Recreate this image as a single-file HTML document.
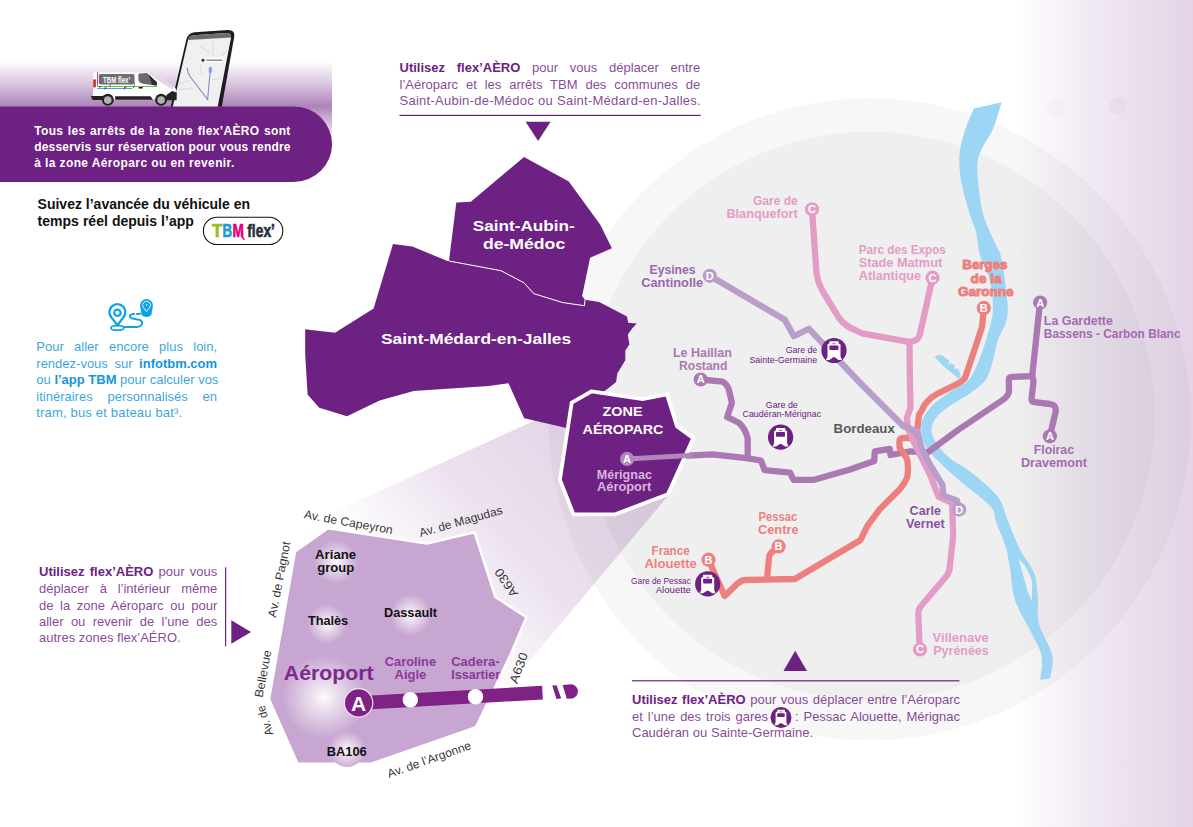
<!DOCTYPE html>
<html lang="fr"><head><meta charset="utf-8"><title>flex'AÉRO</title>
<style>
html,body{margin:0;padding:0;background:#fff}
body{width:1193px;height:827px;overflow:hidden;position:relative;font-family:"Liberation Sans",sans-serif}
svg text{font-family:"Liberation Sans",sans-serif}
.l{position:absolute;white-space:nowrap;text-align:justify;text-align-last:justify;line-height:1}
.p{color:rgba(109,33,130,.84);font-size:13px}
.p b{color:#6d2182}
.b{color:rgba(20,150,215,.88);font-size:13px}
.b b{color:#1496d7}
.w{color:#fff;font-size:12px;font-weight:bold}
.k{color:#111;font-size:14px;font-weight:bold}
b{font-weight:bold}
.n{text-align-last:left}
</style></head><body>
<svg width="1193" height="827" viewBox="0 0 1193 827" style="position:absolute;left:0;top:0">
<defs>
<linearGradient id="gR" x1="0" y1="0" x2="1" y2="0"><stop offset="0" stop-color="#6d2182" stop-opacity="0"/><stop offset="0.4" stop-color="#6d2182" stop-opacity="0.095"/><stop offset="1" stop-color="#6d2182" stop-opacity="0.195"/></linearGradient>
<linearGradient id="gT" gradientUnits="userSpaceOnUse" x1="0" y1="61" x2="0" y2="141"><stop offset="0" stop-color="#6d2182" stop-opacity="0"/><stop offset="0.28" stop-color="#6d2182" stop-opacity="0.25"/><stop offset="0.5625" stop-color="#6d2182" stop-opacity="0.56"/><stop offset="1" stop-color="#6d2182" stop-opacity="0"/></linearGradient>
<linearGradient id="gC" gradientUnits="userSpaceOnUse" x1="620" y1="450" x2="420" y2="625"><stop offset="0" stop-color="#6d2182" stop-opacity="0.2"/><stop offset="0.55" stop-color="#6d2182" stop-opacity="0.13"/><stop offset="0.92" stop-color="#6d2182" stop-opacity="0.02"/><stop offset="1" stop-color="#6d2182" stop-opacity="0"/></linearGradient>
<radialGradient id="gl"><stop offset="0" stop-color="#fff" stop-opacity="0.95"/><stop offset="0.35" stop-color="#fff" stop-opacity="0.6"/><stop offset="1" stop-color="#fff" stop-opacity="0"/></radialGradient>
</defs>
<circle cx="869.6" cy="419.3" r="321.2" fill="#f7f7f7"/>
<circle cx="870.3" cy="416" r="284.3" fill="#efefef"/>
<rect x="1016" y="0" width="177" height="827" fill="url(#gR)"/>
<rect x="0" y="60" width="332" height="86" fill="url(#gT)"/>
<path d="M0,106.4H294A38,37.7 0 0 1 294,181.9H0Z" fill="#6d2182"/>
<polygon points="571.0,404.0 668.0,496.0 500.0,696.0 290.0,532.0" fill="url(#gC)"/>
<path d="M973.8,108.6 C972.2,112.7 966.5,125.1 964.1,133.2 C961.7,141.3 959.7,148.9 959.3,157.4 C958.9,165.9 959.9,174.3 961.7,184.0 C963.5,193.7 967.8,207.5 970.2,215.5 C972.6,223.5 974.4,225.6 976.0,232.0 C977.6,238.4 977.5,246.5 979.7,254.2 C981.9,261.9 987.2,269.1 989.4,278.4 C991.6,287.7 993.4,300.0 993.0,309.8 C992.6,319.6 989.6,327.9 987.0,337.0 C984.4,346.1 980.6,356.8 977.4,364.2 C974.2,371.6 971.9,376.7 967.7,381.1 C963.5,385.5 957.6,387.0 952.0,390.8 C946.4,394.6 938.7,399.5 933.9,404.1 C929.1,408.7 925.1,414.3 923.0,418.6 C920.9,422.9 921.0,425.6 921.3,430.0 C921.6,434.4 922.4,440.3 925.0,445.3 C927.6,450.3 931.2,453.9 937.0,459.8 C942.8,465.8 951.0,473.2 960.0,481.0 C969.0,488.8 984.7,499.7 990.7,506.5 C996.7,513.3 993.6,515.5 996.0,522.0 C998.4,528.5 1002.9,537.5 1005.2,545.2 C1007.5,552.9 1008.4,559.3 1010.0,568.4 C1011.6,577.5 1011.7,589.7 1014.9,599.8 C1018.1,609.9 1025.0,619.6 1029.4,628.9 C1033.8,638.2 1039.7,647.0 1041.5,655.5 C1043.3,664.0 1040.5,675.7 1040.3,679.7 L1049.9,678.5 C1050.3,674.7 1054.2,664.6 1052.4,655.5 C1050.6,646.4 1041.4,633.7 1039.0,624.0 C1036.6,614.3 1038.6,605.9 1037.8,597.4 C1037.0,588.9 1037.2,581.3 1034.2,573.2 C1031.2,565.1 1024.1,557.9 1019.7,549.0 C1015.3,540.1 1011.2,528.7 1007.6,520.0 C1004.0,511.3 1004.0,504.7 997.9,496.8 C991.8,488.9 979.2,479.0 971.3,472.6 C963.4,466.2 956.1,463.4 950.4,458.6 C944.7,453.9 940.2,448.9 937.1,444.1 C934.0,439.3 931.6,434.4 931.5,430.0 C931.4,425.6 933.1,421.5 936.3,417.4 C939.5,413.3 945.1,409.3 950.8,405.3 C956.4,401.3 964.6,397.2 970.2,393.2 C975.9,389.2 981.1,385.9 984.7,381.1 C988.3,376.3 989.7,371.1 991.9,364.2 C994.1,357.3 995.6,347.0 998.0,340.0 C1000.4,333.0 1004.4,328.2 1006.0,322.0 C1007.6,315.8 1008.2,313.1 1007.5,302.6 C1006.8,292.1 1003.5,268.7 1001.5,259.0 C999.5,249.3 998.6,251.8 995.6,244.5 C992.6,237.2 986.3,225.2 983.5,215.5 C980.7,205.8 979.6,195.0 978.6,186.5 C977.6,178.0 977.0,170.8 977.4,164.7 C977.8,158.6 978.4,156.2 981.0,150.2 C983.6,144.1 989.8,136.4 993.2,128.4 C996.6,120.4 1000.2,106.7 1001.6,102.3 Z" fill="#9dd5f5"/>
<path d="M1018.5,558.7 Q1030,570 1032.3,582.9 L1031.8,601 Q1027,592 1024.5,580.5 Z" fill="#efefef"/>
<polygon points="934.5,357 938,355 943,355.7 949.6,361.2 947.8,364.2 952,363.6 955,366 953.8,369 958,368.4 959.3,371.5 961,376.3 958.7,378.7 944.8,367.2" fill="#9dd5f5"/>
<path d="M627,459 L640,458 L712.6,454.4 L746.5,458.1 L761,460.5 L764.6,470.2 L790,472.6 L793.6,479.8 L814.2,479.8 L850,469.5 L874.2,461 L874.8,451.4 L889.9,448.9 L890.5,455 L910.5,451.4 L927.4,452.6 L958,430 L1002.7,400 Q1009.5,395 1009,389.7 L1008.8,380 Q1008.8,377 1012,376.9 L1032.2,376.1" fill="none" stroke="#ab78b4" stroke-width="6.3" stroke-linecap="round" stroke-linejoin="round"/>
<path d="M700.7,379.5 L722.8,381.7 Q727,384 729,390 L731.9,402.9 L727.1,416.9 L739.2,423 Q746,430 747.7,438.7 L747.7,456.9" fill="none" stroke="#ab78b4" stroke-width="6.3" stroke-linecap="round" stroke-linejoin="round"/>
<path d="M1040,302.6 L1032.2,376.1 L1033.5,381 L1031.6,398.6 Q1031.4,401.8 1034.5,402.2 L1050,404 Q1056.5,405 1055.8,411 L1049.9,436.3" fill="none" stroke="#ab78b4" stroke-width="6.3" stroke-linecap="round" stroke-linejoin="round"/>
<path d="M983.8,307.9 L982.1,326.8 L965.2,377.6 Q962,382 955,385 L937,394 Q926,400 922,410 L919,415 L917.1,430.8 Q916,438 909,438 L903,438 Q899,438.5 899.4,443 L899.6,447.7 L906.9,458.6 Q909,468 907.2,477.4 Q905,483 900,489 L880,508.9 L867.4,525.8 L860.2,540.3 L794.9,579 L745,580 Q741.6,580.3 738,583 L724.7,596 L708.5,559.7" fill="none" stroke="#ee7f7f" stroke-width="6.3" stroke-linecap="round" stroke-linejoin="round"/>
<path d="M778.6,546.4 L771,553 Q769,555 769,558 L767,579" fill="none" stroke="#ee7f7f" stroke-width="6.3" stroke-linecap="round" stroke-linejoin="round"/>
<path d="M812,209.3 L816.6,274.3 Q818,283 822,290 L839,318 Q845,326 855,330 L862,333.3 L908.8,341.8 Q918,342 920,334 L932.5,277.7" fill="none" stroke="#e39cc6" stroke-width="6.3" stroke-linecap="round" stroke-linejoin="round"/>
<path d="M909.5,342 L909.9,380 L910.5,407.8 L906.9,417.5 L908,428.4 L914.1,442.9 L930.2,475 L938.6,496.8 L952,502.8 L953.2,535.5 L949.5,569.4 Q948,575 944,579 L921,606 Q918.1,609.5 918.3,615 L919.3,641 L920,649.4" fill="none" stroke="#e39cc6" stroke-width="6.3" stroke-linecap="round" stroke-linejoin="round"/>
<path d="M709.8,275.8 L784.8,319.7 L793.9,336.3 L809,328.8 L857.3,380 L903.2,426 L917.7,432 L921.4,447.7 L929,462.9 L942.3,484.7 L943.5,495.6 L956.8,500.4 L959.2,509.6" fill="none" stroke="#b99dca" stroke-width="6.3" stroke-linecap="round" stroke-linejoin="round"/>
<polygon points="393.0,244.0 412.3,246.5 447.4,261.0 449.0,261.0 501.0,270.7 524.0,282.8 533.7,293.6 562.8,302.6 584.5,305.7 585.0,299.7 599.2,302.1 627.0,316.6 628.2,322.7 636.7,323.4 631.9,328.7 627.8,334.8 629.4,344.4 625.3,350.5 625.3,360.2 617.3,373.5 616.1,382.0 606.5,389.7 590.0,400.0 566.5,428.0 524.2,418.2 508.5,383.2 488.6,386.0 413.6,390.9 379.7,400.6 347.0,416.3 319.2,407.8 307.6,394.5 305.2,354.6 305.2,329.2 335.0,332.8 373.6,308.6" fill="#6d2182"/>
<polygon points="524.0,157.0 568.8,181.6 600.3,224.7 611.9,248.2 590.1,257.8 582.1,296.1 585.0,299.7 584.5,305.7 562.8,302.6 533.7,293.6 524.0,282.8 501.0,270.7 449.0,261.0 456.3,202.4 470.8,201.7" fill="#6d2182"/>
<polyline points="449.0,261.0 501.0,270.7 524.0,282.8 533.7,293.6 562.8,302.6 584.5,305.7 585.0,299.7" fill="none" stroke="#fff" stroke-width="1"/>
<polygon points="591.7,391.3 642.5,399.1 667.0,394.5 677.0,426.3 693.3,438.1 667.9,494.3 615.3,514.3 573.5,514.3 559.9,479.8 571.7,402.7" fill="#6d2182" stroke="#fff" stroke-width="3.8" stroke-linejoin="miter"/>
<path d="M627,459 L693,455.2" stroke="#b186bd" stroke-width="5" fill="none"/>
<circle cx="812" cy="209.3" r="7.1" fill="#e39cc6"/><text x="812" y="213.20000000000002" font-size="11" font-weight="bold" fill="#fff" text-anchor="middle">C</text>
<circle cx="932.5" cy="277.7" r="7.1" fill="#e39cc6"/><text x="932.5" y="281.59999999999997" font-size="11" font-weight="bold" fill="#fff" text-anchor="middle">C</text>
<circle cx="920" cy="649.4" r="7.1" fill="#e39cc6"/><text x="920" y="653.3" font-size="11" font-weight="bold" fill="#fff" text-anchor="middle">C</text>
<circle cx="709.8" cy="275.8" r="7.1" fill="#b99dca"/><text x="709.8" y="279.7" font-size="11" font-weight="bold" fill="#fff" text-anchor="middle">D</text>
<circle cx="959.2" cy="509.6" r="7.1" fill="#b99dca"/><text x="959.2" y="513.5" font-size="11" font-weight="bold" fill="#fff" text-anchor="middle">D</text>
<circle cx="700.7" cy="379.5" r="7.1" fill="#ab78b4"/><text x="700.7" y="383.4" font-size="11" font-weight="bold" fill="#fff" text-anchor="middle">A</text>
<circle cx="1040.2" cy="302.6" r="7.1" fill="#ab78b4"/><text x="1040.2" y="306.5" font-size="11" font-weight="bold" fill="#fff" text-anchor="middle">A</text>
<circle cx="1049.9" cy="436.3" r="7.1" fill="#ab78b4"/><text x="1049.9" y="440.2" font-size="11" font-weight="bold" fill="#fff" text-anchor="middle">A</text>
<circle cx="627.1" cy="458.9" r="7.1" fill="#b186bd"/><text x="627.1" y="462.79999999999995" font-size="11" font-weight="bold" fill="#fff" text-anchor="middle">A</text>
<circle cx="983.8" cy="307.9" r="7.1" fill="#ee7f7f"/><text x="983.8" y="311.79999999999995" font-size="11" font-weight="bold" fill="#fff" text-anchor="middle">B</text>
<circle cx="778.6" cy="546.4" r="7.1" fill="#ee7f7f"/><text x="778.6" y="550.3" font-size="11" font-weight="bold" fill="#fff" text-anchor="middle">B</text>
<circle cx="708.5" cy="559.7" r="7.1" fill="#ee7f7f"/><text x="708.5" y="563.6" font-size="11" font-weight="bold" fill="#fff" text-anchor="middle">B</text>
<g transform="translate(834,350.5)"><circle r="12.6" fill="#6d2182"/><path d="M-4.6,-9.2H4.6V-7.2L6.5,-6V6L8,9.4L4.5,9.4L0.8,6.8H-0.8L-4.5,9.4L-8,9.4L-6.5,6V-6L-4.6,-7.2Z" fill="#fff"/><rect x="-4.6" y="-5.1" width="9" height="4.6" rx="0.8" fill="#6d2182"/><rect x="-1.4" y="-7.1" width="2.8" height="0.8" fill="#6d2182"/></g>
<g transform="translate(780.6,437.2)"><circle r="12.6" fill="#6d2182"/><path d="M-4.6,-9.2H4.6V-7.2L6.5,-6V6L8,9.4L4.5,9.4L0.8,6.8H-0.8L-4.5,9.4L-8,9.4L-6.5,6V-6L-4.6,-7.2Z" fill="#fff"/><rect x="-4.6" y="-5.1" width="9" height="4.6" rx="0.8" fill="#6d2182"/><rect x="-1.4" y="-7.1" width="2.8" height="0.8" fill="#6d2182"/></g>
<g transform="translate(707.7,583.9)"><circle r="12.6" fill="#6d2182"/><path d="M-4.6,-9.2H4.6V-7.2L6.5,-6V6L8,9.4L4.5,9.4L0.8,6.8H-0.8L-4.5,9.4L-8,9.4L-6.5,6V-6L-4.6,-7.2Z" fill="#fff"/><rect x="-4.6" y="-5.1" width="9" height="4.6" rx="0.8" fill="#6d2182"/><rect x="-1.4" y="-7.1" width="2.8" height="0.8" fill="#6d2182"/></g>
<g transform="translate(781,717.5) scale(0.83)"><circle r="12.6" fill="#6d2182"/><path d="M-4.6,-9.2H4.6V-7.2L6.5,-6V6L8,9.4L4.5,9.4L0.8,6.8H-0.8L-4.5,9.4L-8,9.4L-6.5,6V-6L-4.6,-7.2Z" fill="#fff"/><rect x="-4.6" y="-5.1" width="9" height="4.6" rx="0.8" fill="#6d2182"/><rect x="-1.4" y="-7.1" width="2.8" height="0.8" fill="#6d2182"/></g>
<polygon points="328.0,528.3 426.9,543.5 474.5,532.3 495.4,597.0 526.5,617.2 510.4,655.0 495.6,686.3 476.1,727.1 372.0,763.4 297.5,763.7 269.0,699.3 295.0,551.5" fill="#c7a6d1" stroke="#fff" stroke-width="2.5" stroke-linejoin="round"/>
<circle cx="347" cy="750" r="17" fill="#c7a6d1"/>
<circle cx="336" cy="562" r="22" fill="url(#gl)"/>
<circle cx="327" cy="624" r="20" fill="url(#gl)"/>
<circle cx="410.6" cy="615" r="21" fill="url(#gl)"/>
<circle cx="324" cy="697" r="42" fill="url(#gl)"/>
<circle cx="347" cy="750" r="19" fill="url(#gl)"/>
<path d="M358.5,703.1 L542.5,692.6" stroke="#7f2185" stroke-width="13.6" fill="none"/>
<path d="M552.2,685.4 L556.6,685.2 L561.2,698.6 L556.5,698.9 Z" fill="#7f2185"/>
<path d="M562.6,684.9 L571.5,684.2 A7.2,7.2 0 0 1 572.2,698.4 L566.8,698.8 Z" fill="#7f2185"/>
<circle cx="358.6" cy="702.9" r="14.2" fill="#7f2185" stroke="#f3e9f5" stroke-width="1.2"/>
<text x="358.5" y="710.6" font-size="21" font-weight="bold" fill="#fff" text-anchor="middle">A</text>
<circle cx="410.3" cy="699.8" r="7.7" fill="#fff"/><circle cx="475.5" cy="696.7" r="7.7" fill="#fff"/>
<g>
<path d="M170.8,106.4 L186.2,40 Q188,33 194.5,32.3 L228,29.9 Q235.4,29.8 234.2,37 L221.8,106.4 Z" fill="#1d1d1f"/>
<path d="M172.8,106.4 L187.8,41 Q189,35.6 193.5,35.2 L226.5,33 Q231.8,32.9 231,38 L217.7,106.4 Z" fill="#f0f0f0"/>
<path d="M189.2,36.6 Q190.5,35.4 193.5,35.2 L226.5,33 Q231.5,32.9 231,37 L230.8,37.6 L188.4,40 Z" fill="#6c6c6c"/>
<path d="M187,67.5 Q187.5,72 190,76.5 L207.6,99.5 L210.6,67" fill="none" stroke="#8587c8" stroke-width="1.1"/>
<path d="M178,84.5 L190,80.5 M179,90 L193,88 M199,46 L206,50 L210,52 M213,40 L213,58 M222,56 L227,50 M201,64 L201,74 M212,80 L222,78" fill="none" stroke="#d6d6da" stroke-width="0.9"/>
<rect x="200.4" y="57.6" width="23" height="5" rx="1" fill="#fcfcfc"/><circle cx="203" cy="60.2" r="1.6" fill="#3a3a6e"/><rect x="206.4" y="59.6" width="15.6" height="1.1" fill="#666"/>
<rect x="208.8" y="67" width="3" height="6" rx="1.3" fill="#7f9de8"/>
<path d="M93.4,73.4 Q93.5,72.4 94.8,72.4 L147.5,72.4 L151.2,72.8 L174,86.8 Q176.6,88.6 176.5,91.8 L176.5,99.6 L92.6,99.6 L93.2,88 Z" fill="#fff"/>
<path d="M147.6,72.6 L151.2,72.8 L174,86.9 L172.6,89.4 L161,82.6 Z" fill="#dcdcdc"/>
<path d="M90.9,96 L103,96 L103.5,99.9 L92.5,99.9 Z" fill="#222"/>
<path d="M115.2,96.2 L150.5,96.2 L153,99.8 L115.2,99.8 Z" fill="#222"/>
<path d="M165.5,99 L166.5,95 L172,91 L176.8,92.6 L176.6,100.2 L166.5,100.2 Z" fill="#222"/>
<rect x="98.8" y="74.1" width="35.7" height="10.3" rx="1.6" fill="#6e6e6e"/>
<text x="116.6" y="82.7" font-size="8.5" font-weight="bold" fill="#fff" text-anchor="middle" textLength="27" lengthAdjust="spacingAndGlyphs">TBM flex’</text>
<path d="M139.6,73.4 L147,73 L157.1,82.6 L156.7,85.5 L143.7,83.9 Q138.4,83 138.4,79 L138.4,74.6 Q138.5,73.5 139.6,73.4 Z" fill="#6a6a6a"/>
<path d="M148.6,74.6 L157.1,82.6 L156.7,85.5 L152,84.9 Z" fill="#2e2e2e"/>
<rect x="97.2" y="86.1" width="60" height="0.9" fill="#63b32e"/><rect x="97.2" y="88" width="34.8" height="0.9" fill="#19a4e0"/>
<rect x="97.2" y="72.4" width="0.8" height="13.8" fill="#e6007e"/><rect x="134.2" y="82.2" width="0.8" height="4.6" fill="#19a4e0"/>
<rect x="109.7" y="84.4" width="0.8" height="2.8" fill="#e6007e"/><rect x="104.3" y="87.6" width="0.8" height="2.1" fill="#e6007e"/><rect x="124" y="87" width="0.8" height="2.7" fill="#e6007e"/>
<rect x="99" y="86.4" width="1.6" height="0.9" fill="#111"/><rect x="105.4" y="87.4" width="1.2" height="1" fill="#111"/><rect x="125.2" y="86.6" width="1.4" height="1" fill="#111"/><rect x="133" y="86.6" width="1.2" height="1" fill="#111"/><rect x="138.6" y="87" width="4.2" height="1.5" fill="#222"/>
<rect x="93.2" y="79.2" width="2.7" height="8.4" rx="1" fill="#c0392b"/>
<circle cx="107.8" cy="99.8" r="6" fill="#222"/><circle cx="107.8" cy="100.1" r="3.8" fill="#b2b2b2"/>
<circle cx="161.1" cy="99.8" r="6" fill="#222"/><circle cx="161.1" cy="100.1" r="3.8" fill="#b2b2b2"/>
</g>
<circle cx="1055.6" cy="108.4" r="8.5" fill="#6d2182" fill-opacity="0.025"/><circle cx="1117.5" cy="105.8" r="8.5" fill="#6d2182" fill-opacity="0.03"/>
<rect x="203.4" y="217.2" width="79.4" height="27.3" rx="13.6" fill="#fff" stroke="#111" stroke-width="1.1"/>
<text y="237.2" font-size="19" font-weight="bold"><tspan x="212" fill="#95c11f" stroke="#95c11f" stroke-width="0.7" textLength="10.4" lengthAdjust="spacingAndGlyphs">T</tspan><tspan x="222.6" fill="#1d9ad6" stroke="#1d9ad6" stroke-width="0.7" textLength="9.6" lengthAdjust="spacingAndGlyphs">B</tspan><tspan x="232.4" fill="#e5007d" stroke="#e5007d" stroke-width="0.7" textLength="11.2" lengthAdjust="spacingAndGlyphs">M</tspan></text>
<path d="M242.4,231 L242.6,237.5 L244.4,239.8" fill="none" stroke="#e5007d" stroke-width="1.5"/>
<text x="247.2" y="236.8" font-size="18" font-weight="bold" fill="#2b3040" stroke="#2b3040" stroke-width="0.6" textLength="27.8" lengthAdjust="spacingAndGlyphs">flex’</text>
<g fill="none" stroke="#0ea2e2" stroke-width="2.3" stroke-linecap="round" stroke-linejoin="round">
<path d="M117.4,325.2 L111.4,317.4 A8,8 0 1 1 123.4,317.4 Z"/>
<circle cx="117.4" cy="312.8" r="3.2" stroke-width="2.2"/>
<ellipse cx="117.4" cy="327.9" rx="6.4" ry="2.3" stroke-width="1.7"/>
<path d="M124.5,327 L137,327 Q142.4,326.5 142.2,322.4 Q141.8,319.8 136,319.2 L133,318.6 Q129.6,317.6 129.9,315.8 Q130.4,314.2 134.2,314" stroke-width="2"/>
<path d="M137,313.9 L140.2,313.8" stroke-width="2"/>
</g>
<path d="M140,305.6 A6.5,6.5 0 0 1 153,305.6 L151.8,312.6 Q152,316.9 146.5,316.9 Q141,316.9 141.2,312.6 Z" fill="#0ea2e2"/>
<path d="M146.5,311.6 L143.2,307.2 A3.9,3.9 0 1 1 149.8,307.2 Z" fill="none" stroke="#fff" stroke-width="0.9" stroke-linejoin="round"/><circle cx="146.5" cy="305" r="0.8" fill="#fff"/>
<polygon points="525.6,121.8 550.6,121.8 538.1,141" fill="#6d2182"/>
<rect x="399.5" y="114.8" width="301.2" height="1.2" fill="#6d2182"/>
<polygon points="783.5,670.9 807,670.9 795.2,650.8" fill="#6d2182"/>
<rect x="632" y="680.2" width="327.5" height="1.2" fill="#6d2182"/>
<rect x="225" y="567.3" width="1.2" height="79" fill="#6d2182"/>
<polygon points="231.3,620.3 231.3,643.7 251,632" fill="#6d2182"/>
<text x="472.7" y="230.7" font-size="15.5" font-weight="bold" fill="#fff" text-anchor="start" textLength="102.1" lengthAdjust="spacingAndGlyphs">Saint-Aubin-</text>
<text x="482.9" y="249.4" font-size="15.5" font-weight="bold" fill="#fff" text-anchor="start" textLength="82.3" lengthAdjust="spacingAndGlyphs">de-Médoc</text>
<text x="381.0" y="344.3" font-size="15.5" font-weight="bold" fill="#fff" text-anchor="start" textLength="190.1" lengthAdjust="spacingAndGlyphs">Saint-Médard-en-Jalles</text>
<text x="602.6" y="416.3" font-size="12.5" font-weight="bold" fill="#fff" text-anchor="start" textLength="39.9" lengthAdjust="spacingAndGlyphs">ZONE</text>
<text x="582.6" y="433.5" font-size="12.5" font-weight="bold" fill="#fff" text-anchor="start" textLength="80.8" lengthAdjust="spacingAndGlyphs">AÉROPARC</text>
<text x="596.8" y="478.9" font-size="12" font-weight="bold" fill="#d6b6de" text-anchor="start" textLength="55.1" lengthAdjust="spacingAndGlyphs">Mérignac</text>
<text x="597.1" y="491.0" font-size="12" font-weight="bold" fill="#d6b6de" text-anchor="start" textLength="54.1" lengthAdjust="spacingAndGlyphs">Aéroport</text>
<text x="753.0" y="204.8" font-size="12" font-weight="bold" fill="#e39cc6" text-anchor="start" textLength="44.8" lengthAdjust="spacingAndGlyphs">Gare de</text>
<text x="726.4" y="218.4" font-size="12" font-weight="bold" fill="#e39cc6" text-anchor="start" textLength="71.4" lengthAdjust="spacingAndGlyphs">Blanquefort</text>
<text x="649.6" y="274.3" font-size="12" font-weight="bold" fill="#9a67ad" text-anchor="start" textLength="46.0" lengthAdjust="spacingAndGlyphs">Eysines</text>
<text x="641.2" y="287.3" font-size="12" font-weight="bold" fill="#9a67ad" text-anchor="start" textLength="62.0" lengthAdjust="spacingAndGlyphs">Cantinolle</text>
<text x="672.9" y="356.6" font-size="12" font-weight="bold" fill="#ab78b4" text-anchor="start" textLength="59.0" lengthAdjust="spacingAndGlyphs">Le Haillan</text>
<text x="679.0" y="369.6" font-size="12" font-weight="bold" fill="#ab78b4" text-anchor="start" textLength="48.4" lengthAdjust="spacingAndGlyphs">Rostand</text>
<text x="858.7" y="253.7" font-size="12" font-weight="bold" fill="#e39cc6" text-anchor="start" textLength="87.1" lengthAdjust="spacingAndGlyphs">Parc des Expos</text>
<text x="858.7" y="266.8" font-size="12" font-weight="bold" fill="#e39cc6" text-anchor="start" textLength="83.5" lengthAdjust="spacingAndGlyphs">Stade Matmut</text>
<text x="858.7" y="279.6" font-size="12" font-weight="bold" fill="#e39cc6" text-anchor="start" textLength="62.4" lengthAdjust="spacingAndGlyphs">Atlantique</text>
<text x="962.3" y="268.7" font-size="13" font-weight="bold" fill="#ee7f7f" text-anchor="start" textLength="45.2" lengthAdjust="spacingAndGlyphs" stroke="#ee7f7f" stroke-width="0.9">Berges</text>
<text x="970.5" y="283.2" font-size="13" font-weight="bold" fill="#ee7f7f" text-anchor="start" textLength="31.0" lengthAdjust="spacingAndGlyphs" stroke="#ee7f7f" stroke-width="0.9">de la</text>
<text x="957.9" y="295.8" font-size="13" font-weight="bold" fill="#ee7f7f" text-anchor="start" textLength="55.7" lengthAdjust="spacingAndGlyphs" stroke="#ee7f7f" stroke-width="0.9">Garonne</text>
<text x="1043.8" y="325.0" font-size="12" font-weight="bold" fill="#a569b3" text-anchor="start" textLength="69.1" lengthAdjust="spacingAndGlyphs">La Gardette</text>
<text x="1043.8" y="337.5" font-size="12" font-weight="bold" fill="#a569b3" text-anchor="start" textLength="136.7" lengthAdjust="spacingAndGlyphs">Bassens - Carbon Blanc</text>
<text x="1033.7" y="453.7" font-size="12" font-weight="bold" fill="#a569b3" text-anchor="start" textLength="40.4" lengthAdjust="spacingAndGlyphs">Floirac</text>
<text x="1020.9" y="466.5" font-size="12" font-weight="bold" fill="#a569b3" text-anchor="start" textLength="66.1" lengthAdjust="spacingAndGlyphs">Dravemont</text>
<text x="909.6" y="514.9" font-size="12" font-weight="bold" fill="#8c50a0" text-anchor="start" textLength="31.4" lengthAdjust="spacingAndGlyphs">Carle</text>
<text x="906.0" y="527.5" font-size="12" font-weight="bold" fill="#8c50a0" text-anchor="start" textLength="38.7" lengthAdjust="spacingAndGlyphs">Vernet</text>
<text x="833.6" y="433.2" font-size="12.5" font-weight="bold" fill="#585858" text-anchor="start" textLength="61.2" lengthAdjust="spacingAndGlyphs">Bordeaux</text>
<text x="932.6" y="642.2" font-size="12" font-weight="bold" fill="#e39cc6" text-anchor="start" textLength="56.1" lengthAdjust="spacingAndGlyphs">Villenave</text>
<text x="933.3" y="654.8" font-size="12" font-weight="bold" fill="#e39cc6" text-anchor="start" textLength="55.4" lengthAdjust="spacingAndGlyphs">Pyrénées</text>
<text x="758.6" y="521.0" font-size="12" font-weight="bold" fill="#ee7f7f" text-anchor="start" textLength="38.7" lengthAdjust="spacingAndGlyphs">Pessac</text>
<text x="758.0" y="533.8" font-size="12" font-weight="bold" fill="#ee7f7f" text-anchor="start" textLength="40.5" lengthAdjust="spacingAndGlyphs">Centre</text>
<text x="651.6" y="554.9" font-size="12" font-weight="bold" fill="#ee7f7f" text-anchor="start" textLength="38.0" lengthAdjust="spacingAndGlyphs">France</text>
<text x="644.4" y="567.7" font-size="12" font-weight="bold" fill="#ee7f7f" text-anchor="start" textLength="52.5" lengthAdjust="spacingAndGlyphs">Alouette</text>
<text x="785.7" y="353.0" font-size="9" font-weight="normal" fill="#6d2182" text-anchor="start" textLength="31.5" lengthAdjust="spacingAndGlyphs">Gare de</text>
<text x="749.4" y="362.6" font-size="9" font-weight="normal" fill="#6d2182" text-anchor="start" textLength="67.8" lengthAdjust="spacingAndGlyphs">Sainte-Germaine</text>
<text x="765.8" y="408.0" font-size="9" font-weight="normal" fill="#6d2182" text-anchor="start" textLength="32.0" lengthAdjust="spacingAndGlyphs">Gare de</text>
<text x="742.5" y="416.5" font-size="9" font-weight="normal" fill="#6d2182" text-anchor="start" textLength="78.6" lengthAdjust="spacingAndGlyphs">Caudéran-Mérignac</text>
<text x="631.0" y="583.9" font-size="9" font-weight="normal" fill="#6d2182" text-anchor="start" textLength="59.9" lengthAdjust="spacingAndGlyphs">Gare de Pessac</text>
<text x="655.7" y="593.4" font-size="9" font-weight="normal" fill="#6d2182" text-anchor="start" textLength="35.2" lengthAdjust="spacingAndGlyphs">Alouette</text>
<text x="315.1" y="558.8" font-size="12" font-weight="bold" fill="#111" text-anchor="start" textLength="41.0" lengthAdjust="spacingAndGlyphs">Ariane</text>
<text x="317.3" y="571.9" font-size="12" font-weight="bold" fill="#111" text-anchor="start" textLength="37.0" lengthAdjust="spacingAndGlyphs">group</text>
<text x="307.9" y="625.2" font-size="12" font-weight="bold" fill="#111" text-anchor="start" textLength="40.2" lengthAdjust="spacingAndGlyphs">Thalès</text>
<text x="384.1" y="617.2" font-size="12" font-weight="bold" fill="#111" text-anchor="start" textLength="52.9" lengthAdjust="spacingAndGlyphs">Dassault</text>
<text x="326.7" y="756.2" font-size="12" font-weight="bold" fill="#111" text-anchor="start" textLength="40.1" lengthAdjust="spacingAndGlyphs">BA106</text>
<text x="283.8" y="679.6" font-size="20" font-weight="bold" fill="#7b2a8c" text-anchor="start" textLength="89.9" lengthAdjust="spacingAndGlyphs">Aéroport</text>
<text x="384.8" y="665.7" font-size="12" font-weight="bold" fill="#8a3a9a" text-anchor="start" textLength="51.2" lengthAdjust="spacingAndGlyphs">Caroline</text>
<text x="394.5" y="679.3" font-size="12" font-weight="bold" fill="#8a3a9a" text-anchor="start" textLength="31.8" lengthAdjust="spacingAndGlyphs">Aigle</text>
<text x="451.2" y="665.7" font-size="12" font-weight="bold" fill="#8a3a9a" text-anchor="start" textLength="48.4" lengthAdjust="spacingAndGlyphs">Cadera-</text>
<text x="451.2" y="679.3" font-size="12" font-weight="bold" fill="#8a3a9a" text-anchor="start" textLength="49.0" lengthAdjust="spacingAndGlyphs">Issartier</text>
<text transform="translate(303.5,518.1) rotate(10.3)" font-size="12" fill="#111" fill-opacity="0.88" textLength="90" lengthAdjust="spacingAndGlyphs">Av. de Capeyron</text>
<text transform="translate(420.5,537.0) rotate(-15.8)" font-size="12" fill="#111" fill-opacity="0.88" textLength="86" lengthAdjust="spacingAndGlyphs">Av. de Magudas</text>
<text transform="translate(275.8,617.9) rotate(-79)" font-size="12" fill="#111" fill-opacity="0.88" textLength="77" lengthAdjust="spacingAndGlyphs">Av. de Pagnot</text>
<text transform="translate(273.6,734.3) rotate(-107.5)" font-size="12" fill="#111" fill-opacity="0.88" textLength="31" lengthAdjust="spacingAndGlyphs">Av. de</text>
<text transform="translate(262.6,698.1) rotate(-79.4)" font-size="12" fill="#111" fill-opacity="0.88" textLength="48" lengthAdjust="spacingAndGlyphs">Bellevue</text>
<text transform="translate(389.0,778.0) rotate(-19.5)" font-size="12" fill="#111" fill-opacity="0.88" textLength="88" lengthAdjust="spacingAndGlyphs">Av. de l’Argonne</text>
<text transform="translate(518.8,593.6) rotate(236)" font-size="12.5" fill="#111" fill-opacity="0.88" textLength="32" lengthAdjust="spacingAndGlyphs">A630</text>
<text transform="translate(517.2,684.4) rotate(-70)" font-size="12.5" fill="#111" fill-opacity="0.88" textLength="32" lengthAdjust="spacingAndGlyphs">A630</text>
</svg>
<div class="l p" style="left:399.5px;top:61.2px;width:300.7px"><b>Utilisez flex’AÈRO</b> pour vous déplacer entre</div>
<div class="l p" style="left:399.5px;top:77.7px;width:300.7px">l’Aéroparc et les arrêts TBM des communes de</div>
<div class="l p" style="left:399.5px;top:94.1px;width:301.5px;letter-spacing:0.26px">Saint-Aubin-de-Médoc ou Saint-Médard-en-Jalles.</div>
<div class="l p" style="left:632.0px;top:693.3px;width:328.0px"><b>Utilisez flex’AÈRO</b> pour vous déplacer entre l’Aéroparc</div>
<div class="l p" style="left:632.0px;top:709.6px;width:328.0px">et l’une des trois gares <span style='display:inline-block;width:22px'></span>: Pessac Alouette, Mérignac</div>
<div class="l p" style="left:632.0px;top:726.1px;width:181.0px">Caudéran ou Sainte-Germaine.</div>
<div class="l p" style="left:39.0px;top:565.2px;width:178.3px"><b>Utilisez flex’AÈRO</b> pour vous</div>
<div class="l p" style="left:39.0px;top:582.0px;width:178.3px">déplacer à l’intérieur même</div>
<div class="l p" style="left:39.0px;top:598.6px;width:178.3px">de la zone Aéroparc ou pour</div>
<div class="l p" style="left:39.0px;top:615.0px;width:178.3px">aller ou revenir de l’une des</div>
<div class="l p" style="left:39.0px;top:631.4px;width:140.0px">autres zones flex’AÉRO.</div>
<div class="l b" style="left:36.3px;top:340.0px;width:180.8px">Pour aller encore plus loin,</div>
<div class="l b" style="left:36.3px;top:356.7px;width:180.8px">rendez-vous sur <b>infotbm.com</b></div>
<div class="l b" style="left:36.3px;top:373.3px;width:180.8px">ou <b>l’app TBM</b> pour calculer vos</div>
<div class="l b" style="left:36.3px;top:389.6px;width:180.8px">itinéraires personnalisés en</div>
<div class="l b" style="left:36.3px;top:406.3px;width:146.0px;letter-spacing:0.17px">tram, bus et bateau bat³.</div>
<div class="l w" style="left:34.2px;top:124.7px;width:256.5px;letter-spacing:0.35px">Tous les arrêts de la zone flex’AÈRO sont</div>
<div class="l w" style="left:34.2px;top:140.9px;width:256.5px;letter-spacing:0.2px">desservis sur réservation pour vous rendre</div>
<div class="l w" style="left:34.2px;top:156.9px;width:200.5px;letter-spacing:0.38px">à la zone Aéroparc ou en revenir.</div>
<div class="l k" style="left:37.6px;top:197.1px;width:211.8px">Suivez l’avancée du véhicule en</div>
<div class="l k" style="left:37.6px;top:214.2px;width:156.2px">temps réel depuis l’app</div>
</body></html>
